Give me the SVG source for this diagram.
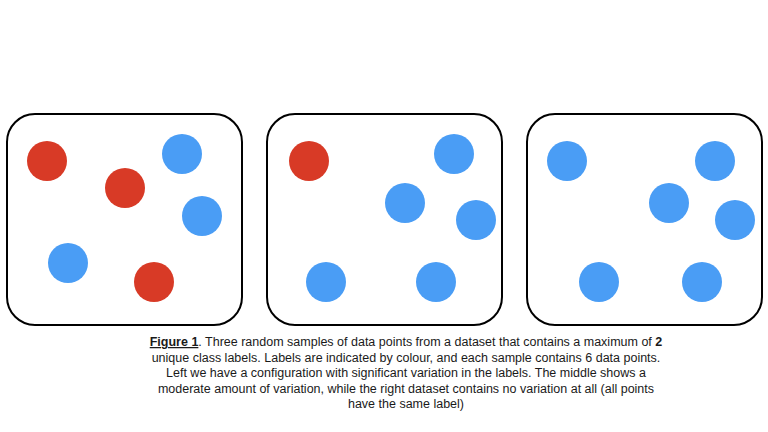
<svg xmlns="http://www.w3.org/2000/svg" width="768" height="432" viewBox="0 0 768 432">
<style>
.box{fill:#fff;stroke:#000;stroke-width:2}
.r{fill:#D83A26}
.b{fill:#4A9DF5}
.cap{font-family:"Liberation Sans",Arial,sans-serif;font-size:12.5px;fill:#1a1a1a;text-anchor:middle}
</style>
<rect width="768" height="432" fill="#fff"/>
<g id="sample-left">
<rect class="box" x="7" y="114" width="235" height="211" rx="28"/>
<circle class="r" cx="47" cy="161" r="20"/>
<circle class="r" cx="125" cy="188" r="20"/>
<circle class="b" cx="182" cy="154" r="20"/>
<circle class="b" cx="202" cy="216" r="20"/>
<circle class="b" cx="68" cy="263" r="20"/>
<circle class="r" cx="154" cy="282" r="20"/>
</g>
<g id="sample-middle">
<rect class="box" x="267" y="114" width="235" height="211" rx="28"/>
<circle class="r" cx="309" cy="161" r="20"/>
<circle class="b" cx="454" cy="154" r="20"/>
<circle class="b" cx="405" cy="203" r="20"/>
<circle class="b" cx="476" cy="220" r="20"/>
<circle class="b" cx="326" cy="282" r="20"/>
<circle class="b" cx="436" cy="282" r="20"/>
</g>
<g id="sample-right">
<rect class="box" x="527" y="114" width="235" height="211" rx="28"/>
<circle class="b" cx="567" cy="161" r="20"/>
<circle class="b" cx="715" cy="161" r="20"/>
<circle class="b" cx="669" cy="203" r="20"/>
<circle class="b" cx="735" cy="220" r="20"/>
<circle class="b" cx="599" cy="282" r="20"/>
<circle class="b" cx="702" cy="282" r="20"/>
</g>
<g id="connectors"></g>
<g id="caption" class="cap">
<text x="406" y="346"><tspan font-weight="bold" text-decoration="underline">Figure 1</tspan>. Three random samples of data points from a dataset that contains a maximum of <tspan font-weight="bold">2</tspan></text>
<text x="406" y="361.5">unique class labels. Labels are indicated by colour, and each sample contains 6 data points.</text>
<text x="406" y="377">Left we have a configuration with significant variation in the labels. The middle shows a</text>
<text x="406" y="392.5">moderate amount of variation, while the right dataset contains no variation at all (all points</text>
<text x="406" y="408">have the same label)</text>
</g>
</svg>
